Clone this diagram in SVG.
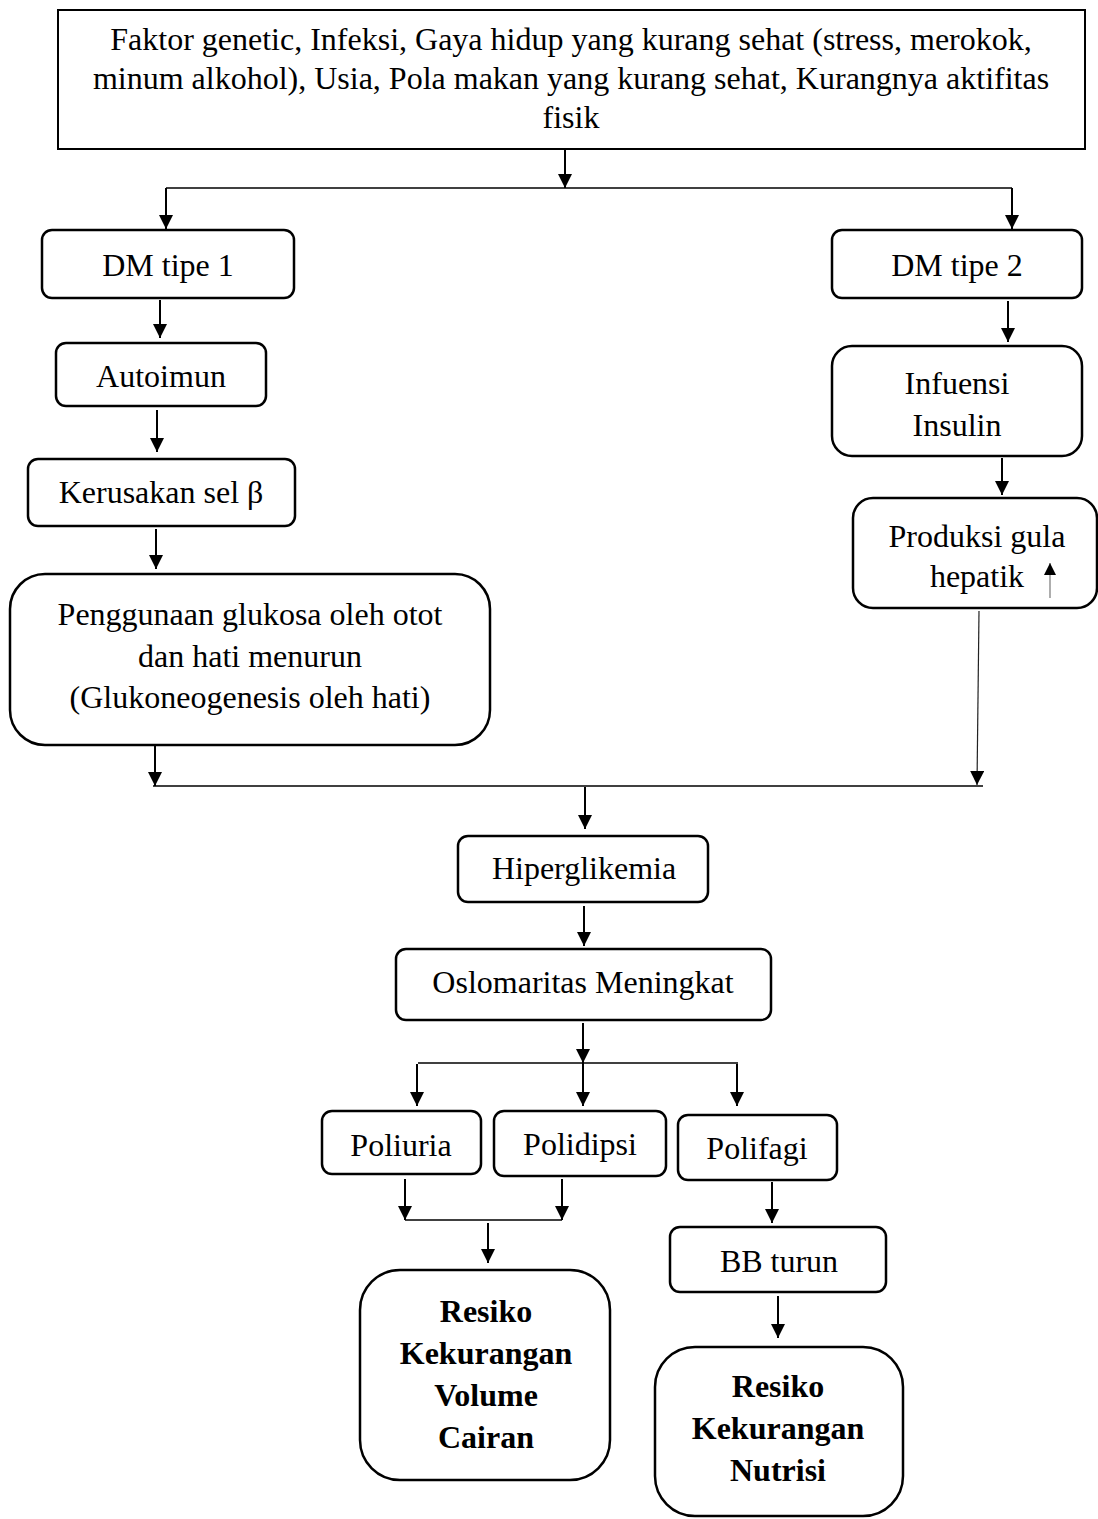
<svg xmlns="http://www.w3.org/2000/svg" width="1098" height="1519" viewBox="0 0 1098 1519">
<style>
.box{fill:#fff;stroke:#000;stroke-width:2.5}
.sq{fill:#fff;stroke:#000;stroke-width:2}
.t{font-family:"Liberation Serif","Times New Roman",serif;font-size:32px;fill:#000;text-anchor:middle}
.b{font-weight:bold}
.a{stroke:#000;stroke-width:2;fill:none}
.h{stroke:#000;stroke-width:1.5;fill:none}
.thin{stroke:#222;stroke-width:1.2;fill:none}
</style>
<defs>
<marker id="ah" markerWidth="14" markerHeight="14" refX="14" refY="7" orient="auto" markerUnits="userSpaceOnUse"><path d="M0,0 L14,7 L0,14 z" fill="#000"/></marker>
<marker id="ahs" markerWidth="12" markerHeight="12" refX="12" refY="6" orient="auto" markerUnits="userSpaceOnUse"><path d="M0,0 L12,6 L0,12 z" fill="#000"/></marker>
</defs>
<rect width="1098" height="1519" fill="#fff"/>
<g id="connectors">
<line class="a" x1="565" y1="150" x2="565" y2="188" marker-end="url(#ah)"/>
<line class="h" x1="166" y1="188" x2="1012" y2="188"/>
<line class="a" x1="166" y1="188" x2="166" y2="229" marker-end="url(#ah)"/>
<line class="a" x1="1012" y1="188" x2="1012" y2="229" marker-end="url(#ah)"/>
<line class="a" x1="160" y1="300" x2="160" y2="338" marker-end="url(#ah)"/>
<line class="a" x1="157" y1="410" x2="157" y2="452" marker-end="url(#ah)"/>
<line class="a" x1="156" y1="529" x2="156" y2="569" marker-end="url(#ah)"/>
<line class="a" x1="155" y1="746" x2="155" y2="786" marker-end="url(#ah)"/>
<line class="a" x1="1008" y1="301" x2="1008" y2="342" marker-end="url(#ah)"/>
<line class="a" x1="1002" y1="458" x2="1002" y2="495" marker-end="url(#ah)"/>
<line class="thin" x1="979" y1="611" x2="977" y2="785" marker-end="url(#ah)"/>
<line class="h" x1="153" y1="786" x2="983" y2="786"/>
<line class="a" x1="585" y1="787" x2="585" y2="829" marker-end="url(#ah)"/>
<line class="a" x1="584" y1="906" x2="584" y2="946" marker-end="url(#ah)"/>
<line class="a" x1="583" y1="1023" x2="583" y2="1063" marker-end="url(#ah)"/>
<line class="h" x1="418" y1="1063" x2="738" y2="1063"/>
<line class="a" x1="417" y1="1064" x2="417" y2="1106" marker-end="url(#ah)"/>
<line class="a" x1="583" y1="1063" x2="583" y2="1106" marker-end="url(#ah)"/>
<line class="a" x1="737" y1="1064" x2="737" y2="1106" marker-end="url(#ah)"/>
<line class="a" x1="405" y1="1179" x2="405" y2="1220" marker-end="url(#ah)"/>
<line class="a" x1="562" y1="1179" x2="562" y2="1220" marker-end="url(#ah)"/>
<line class="h" x1="405" y1="1220" x2="562" y2="1220"/>
<line class="a" x1="488" y1="1223" x2="488" y2="1263" marker-end="url(#ah)"/>
<line class="a" x1="772" y1="1182" x2="772" y2="1223" marker-end="url(#ah)"/>
<line class="a" x1="778" y1="1296" x2="778" y2="1338" marker-end="url(#ah)"/>
</g>
<g id="n-faktor">
<rect class="sq" x="58" y="10" width="1027" height="139"/>
<text class="t" x="571" y="50">Faktor genetic, Infeksi, Gaya hidup yang kurang sehat (stress, merokok,</text>
<text class="t" x="571" y="89">minum alkohol), Usia, Pola makan yang kurang sehat, Kurangnya aktifitas</text>
<text class="t" x="571" y="128">fisik</text>
</g>
<g id="n-dm1">
<rect class="box" x="42" y="230" width="252" height="68" rx="10"/>
<text class="t" x="168" y="276">DM tipe 1</text>
</g>
<g id="n-dm2">
<rect class="box" x="832" y="230" width="250" height="68" rx="10"/>
<text class="t" x="957" y="276">DM tipe 2</text>
</g>
<g id="n-autoimun">
<rect class="box" x="56" y="343" width="210" height="63" rx="10"/>
<text class="t" x="161" y="387">Autoimun</text>
</g>
<g id="n-kerusakan">
<rect class="box" x="28" y="459" width="267" height="67" rx="10"/>
<text class="t" x="161" y="503">Kerusakan sel β</text>
</g>
<g id="n-penggunaan">
<rect class="box" x="10" y="574" width="480" height="171" rx="35"/>
<text class="t" x="250" y="625">Penggunaan glukosa oleh otot</text>
<text class="t" x="250" y="667">dan hati menurun</text>
<text class="t" x="250" y="708">(Glukoneogenesis oleh hati)</text>
</g>
<g id="n-infuensi">
<rect class="box" x="832" y="346" width="250" height="110" rx="20"/>
<text class="t" x="957" y="394">Infuensi</text>
<text class="t" x="957" y="436">Insulin</text>
</g>
<g id="n-produksi">
<rect class="box" x="853" y="498" width="244" height="110" rx="20"/>
<text class="t" x="977" y="547">Produksi gula</text>
<text class="t" x="977" y="587">hepatik</text>
<line x1="1050" y1="598" x2="1050" y2="563" stroke="#777" stroke-width="1.2" marker-end="url(#ahs)"/>
</g>
<g id="n-hiper">
<rect class="box" x="458" y="836" width="250" height="66" rx="10"/>
<text class="t" x="584" y="879">Hiperglikemia</text>
</g>
<g id="n-osl">
<rect class="box" x="396" y="949" width="375" height="71" rx="10"/>
<text class="t" x="583" y="993">Oslomaritas Meningkat</text>
</g>
<g id="n-poliuria">
<rect class="box" x="322" y="1111" width="159" height="63" rx="10"/>
<text class="t" x="401" y="1156">Poliuria</text>
</g>
<g id="n-polidipsi">
<rect class="box" x="494" y="1111" width="172" height="65" rx="10"/>
<text class="t" x="580" y="1155">Polidipsi</text>
</g>
<g id="n-polifagi">
<rect class="box" x="678" y="1115" width="159" height="65" rx="10"/>
<text class="t" x="757" y="1159">Polifagi</text>
</g>
<g id="n-bb">
<rect class="box" x="670" y="1227" width="216" height="65" rx="10"/>
<text class="t" x="779" y="1272">BB turun</text>
</g>
<g id="n-volume">
<rect class="box" x="360" y="1270" width="250" height="210" rx="40"/>
<text class="t b" x="486" y="1322">Resiko</text>
<text class="t b" x="486" y="1364">Kekurangan</text>
<text class="t b" x="486" y="1406">Volume</text>
<text class="t b" x="486" y="1448">Cairan</text>
</g>
<g id="n-nutrisi">
<rect class="box" x="655" y="1347" width="248" height="169" rx="40"/>
<text class="t b" x="778" y="1397">Resiko</text>
<text class="t b" x="778" y="1439">Kekurangan</text>
<text class="t b" x="778" y="1481">Nutrisi</text>
</g>
</svg>
